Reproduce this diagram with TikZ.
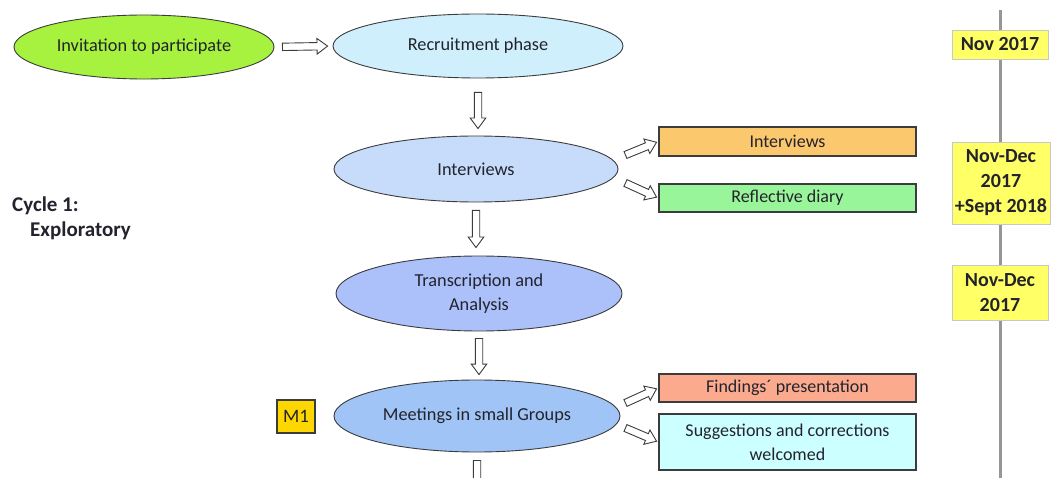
\documentclass[tikz,border=0pt]{standalone}
\usepackage{fontspec}
\setmainfont{Carlito}
\usetikzlibrary{shapes.geometric,calc}
\definecolor{cInv}{RGB}{166,242,62}
\definecolor{cRec}{RGB}{207,239,252}
\definecolor{cInt}{RGB}{198,220,250}
\definecolor{cTra}{RGB}{172,192,250}
\definecolor{cMee}{RGB}{160,196,245}
\definecolor{cIbox}{RGB}{252,200,110}
\definecolor{cRbox}{RGB}{153,245,153}
\definecolor{cFbox}{RGB}{251,170,142}
\definecolor{cSbox}{RGB}{204,255,255}
\definecolor{cDate}{RGB}{255,255,102}
\definecolor{cM}{RGB}{255,215,0}
\definecolor{cEdge}{RGB}{60,60,60}
\definecolor{cTl}{RGB}{150,150,150}
\definecolor{cDateEdge}{RGB}{200,200,200}
\definecolor{cText}{RGB}{35,35,45}
\tikzset{
  phase/.style={ellipse, draw=cEdge, line width=0.9pt, inner sep=0pt, align=center,
    font=\fontsize{18.3}{24}\selectfont, text=cText},
  outbox/.style={rectangle, draw=cEdge, line width=1.2pt, inner sep=0pt, align=center,
    minimum width=257pt, font=\fontsize{18}{24}\selectfont, text=cText},
  datebox/.style={rectangle, draw=cDateEdge, line width=0.8pt, fill=cDate, inner sep=0pt,
    align=center, font=\bfseries\fontsize{20}{25}\selectfont, text=cText},
  harrow/.style 2 args={draw=cEdge, line width=0.9pt, fill=white, line join=miter,
    to path={
      coordinate (hS) at ($(\tikztostart)!#1!(\tikztotarget)$)
      coordinate (hT) at ($(\tikztotarget)!#2!(\tikztostart)$)
      coordinate (hB) at ($(hT)!10.5pt!(hS)$)
      ($(hS)!3.7pt!90:(hT)$) -- ($(hB)!3.7pt!-90:(hS)$) -- ($(hB)!7.8pt!-90:(hS)$)
      -- (hT) -- ($(hB)!7.8pt!90:(hS)$) -- ($(hB)!3.7pt!90:(hS)$)
      -- ($(hS)!3.7pt!-90:(hT)$) -- cycle
    }}
}
\begin{document}
\begin{tikzpicture}[x=1pt,y=-1pt]
\useasboundingbox (0,0) rectangle (1052,478);
\clip (0,0) rectangle (1052,478);

% timeline
\coordinate (tlTop) at (1000,10);
\coordinate (tlBot) at (1000,478);
\draw[cTl, line width=3pt] (tlTop) -- (tlBot);

% phases
\node[phase, fill=cInv, minimum width=260pt, minimum height=64pt] (inv) at (144,47) {Invitation to participate};
\node[phase, fill=cRec, minimum width=290pt, minimum height=64pt] (rec) at (478,46) {Recruitment phase};
\node[phase, fill=cInt, minimum width=284pt, minimum height=66pt] (int) at (476,169) {Interviews};
\node[phase, fill=cTra, minimum width=286pt, minimum height=75pt] (tra) at (479,293.5) {Transcription and\\Analysis};
\node[phase, fill=cMee, minimum width=286pt, minimum height=72pt] (mee) at (477,416) {Meetings in small Groups};

% output boxes
\node[outbox, fill=cIbox, minimum height=29pt] (ibox) at (787.5,141.5) {Interviews};
\node[outbox, fill=cRbox, minimum height=28pt] (rbox) at (787.5,198) {Reflective diary};
\node[outbox, fill=cFbox, minimum height=28pt] (fbox) at (787.5,388) {Findings´ presentation};
\node[outbox, fill=cSbox, minimum height=56pt] (sbox) at (787.5,442) {Suggestions and corrections\\welcomed};

% M1
\node[rectangle, draw=cEdge, line width=1.2pt, fill=cM, minimum width=38pt, minimum height=33pt,
  inner sep=0pt, font=\fontsize{19}{22}\selectfont, text=cText] (m1) at (296,416.5) {M1};

% cycle label
\node[anchor=north west, align=left, inner sep=0pt, font=\bfseries\fontsize{21}{25}\selectfont,
  text=cText] (cyc) at (12,197) {Cycle 1:\\\hspace*{18pt}Exploratory};

% dates
\node[datebox, minimum width=96pt, minimum height=29pt] (d1) at (1000,44.5) {Nov 2017};
\node[datebox, minimum width=98pt, minimum height=82pt] (d2) at (1001,183) {Nov-Dec\\2017\\+Sept 2018};
\node[datebox, minimum width=96pt, minimum height=55pt] (d3) at (1000,292.5) {Nov-Dec\\2017};

% arrows
\coordinate (nextTop) at (477,530);
\draw[harrow={8pt}{5pt}] (inv.east) to (rec.west);
\draw[harrow={14pt}{7pt}] (rec.south) to (rec.south |- int.north);
\draw[harrow={8pt}{8pt}] (int.south) to (int.south |- tra.north);
\draw[harrow={7pt}{5pt}] (tra.south) to (tra.south |- mee.north);
\draw[harrow={8pt}{5pt}] (mee.south) to (nextTop);
\draw[harrow={0pt}{2pt}] ([shift={(7,-14)}]int.east) to (ibox.west);
\draw[harrow={0pt}{2pt}] ([shift={(7,14)}]int.east) to (rbox.west);
\draw[harrow={0pt}{2pt}] ([shift={(5,-13)}]mee.east) to (fbox.west);
\draw[harrow={0pt}{2pt}] ([shift={(5,12)}]mee.east) to (sbox.west);
\end{tikzpicture}
\end{document}
